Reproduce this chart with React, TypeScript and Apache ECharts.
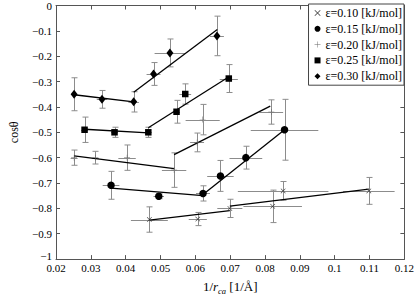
import React, { useEffect, useRef } from "react";
import * as echarts from "echarts";

const names = [
  "ε=0.10 [kJ/mol]",
  "ε=0.15 [kJ/mol]",
  "ε=0.20 [kJ/mol]",
  "ε=0.25 [kJ/mol]",
  "ε=0.30 [kJ/mol]",
];

// ε=0.10
const e10X = [0.0468, 0.0607, 0.0699, 0.0822, 0.0852, 0.1098];
const e10Y = [-0.844, -0.842, -0.8, -0.792, -0.731, -0.731];
const e10XErr = [0.0053, 0.0026, 0.0036, 0.0084, 0.013, 0.0074];
const e10YErr = [0.05, 0.026, 0.036, 0.064, 0.037, 0.053];
const fit10X = [0.0468, 0.0699, 0.0699, 0.1098];
const fit10Y = [-0.846, -0.809, -0.791, -0.724];

// ε=0.15
const e15X = [0.0358, 0.0495, 0.0622, 0.0672, 0.0745, 0.0856];
const e15Y = [-0.709, -0.752, -0.741, -0.672, -0.6, -0.49];
const e15XErr = [0.0024, 0.0015, 0.002, 0.0038, 0.0047, 0.0097];
const e15YErr = [0.055, 0.01, 0.03, 0.061, 0.045, 0.12];
const fit15X = [0.0358, 0.0622, 0.0622, 0.0856];
const fit15Y = [-0.72, -0.75, -0.745, -0.49];

// ε=0.20
const e20X = [0.0252, 0.0313, 0.0404, 0.0539, 0.0605, 0.0621, 0.0818];
const e20Y = [-0.6, -0.6, -0.6, -0.649, -0.54, -0.45, -0.42];
const e20XErr = [0.001, 0.001, 0.0025, 0.0035, 0.002, 0.0049, 0.0034];
const e20YErr = [0.03, 0.025, 0.05, 0.068, 0.037, 0.06, 0.048];
const fit20X = [0.0252, 0.0539, 0.0539, 0.0815];
const fit20Y = [-0.593, -0.643, -0.588, -0.397];

// ε=0.25
const e25X = [0.0282, 0.0368, 0.0465, 0.0546, 0.0571, 0.0696];
const e25Y = [-0.49, -0.5, -0.5, -0.419, -0.349, -0.288];
const e25XErr = [0.001, 0.001, 0.001, 0.001, 0.0017, 0.0026];
const e25YErr = [0.05, 0.02, 0.02, 0.045, 0.04, 0.055];
const fit25X = [0.0282, 0.0465, 0.0465, 0.0692];
const fit25Y = [-0.488, -0.502, -0.482, -0.285];

// ε=0.30
const e30X = [0.0252, 0.0332, 0.0423, 0.048, 0.0527, 0.0662];
const e30Y = [-0.35, -0.37, -0.38, -0.27, -0.187, -0.12];
const e30XErr = [0.0005, 0.0015, 0.0015, 0.002, 0.0044, 0.002];
const e30YErr = [0.065, 0.035, 0.04, 0.045, 0.055, 0.078];
const fit30X = [0.0252, 0.0423, 0.0423, 0.0663];
const fit30Y = [-0.352, -0.38, -0.342, -0.095];

const FONT = "'Liberation Serif', 'DejaVu Serif', serif";
const AX = "#555";

const xPath = "path://M0,0.8 L0.8,0 L5,4.2 L9.2,0 L10,0.8 L5.8,5 L10,9.2 L9.2,10 L5,5.8 L0.8,10 L0,9.2 L4.2,5 Z";
const plusPath = "path://M4.6,0 H5.4 V4.6 H10 V5.4 H5.4 V10 H4.6 V5.4 H0 V4.6 H4.6 Z";

const groups = [
  { X: e10X, Y: e10Y, XE: e10XErr, YE: e10YErr, FX: fit10X, FY: fit10Y, symbol: xPath, size: 5, color: "#333" },
  { X: e15X, Y: e15Y, XE: e15XErr, YE: e15YErr, FX: fit15X, FY: fit15Y, symbol: "circle", size: 7.5, color: "#000" },
  { X: e20X, Y: e20Y, XE: e20XErr, YE: e20YErr, FX: fit20X, FY: fit20Y, symbol: plusPath, size: 6, color: "#666" },
  { X: e25X, Y: e25Y, XE: e25XErr, YE: e25YErr, FX: fit25X, FY: fit25Y, symbol: "rect", size: 6.5, color: "#000" },
  { X: e30X, Y: e30Y, XE: e30XErr, YE: e30YErr, FX: fit30X, FY: fit30Y, symbol: "diamond", size: [7, 9], color: "#000" },
];

const fmt = (v: number) => String(Number(v.toFixed(3))).replace("-", "\u2212");
const fmtY = (v: number) => (Math.abs(v + 1) < 1e-9 ? "{up|" + fmt(v) + "}" : fmt(v));

function App() {
  const ref = useRef<HTMLDivElement>(null);
  useEffect(() => {
    const chart = echarts.init(ref.current!, null, { renderer: "svg" });
    const series: any[] = [];
    groups.forEach((g, gi) => {
      series.push({
        type: "custom",
        name: "err" + gi,
        z: 1,
        silent: true,
        data: g.X.map((x, i) => [x, g.Y[i], g.XE[i], g.YE[i]]),
        encode: { x: 0, y: 1 },
        renderItem: (params: any, api: any) => {
          const x = api.value(0);
          const y = api.value(1);
          const xe = api.value(2);
          const ye = api.value(3);
          const c = api.coord([x, y]);
          const t = api.coord([x, y + ye]);
          const b = api.coord([x, y - ye]);
          const l = api.coord([x - xe, y]);
          const r = api.coord([x + xe, y]);
          const style = { stroke: "#8c8c8c", lineWidth: 1, fill: null };
          const cx = Math.round(c[0]) + 0.5;
          const cy = Math.round(c[1]) + 0.5;
          return {
            type: "group",
            children: [
              { type: "line", shape: { x1: cx, y1: t[1], x2: cx, y2: b[1] }, style },
              { type: "line", shape: { x1: cx - 3, y1: t[1], x2: cx + 3, y2: t[1] }, style },
              { type: "line", shape: { x1: cx - 3, y1: b[1], x2: cx + 3, y2: b[1] }, style },
              { type: "line", shape: { x1: l[0], y1: cy, x2: r[0], y2: cy }, style },
            ],
          };
        },
      });
      for (let s = 0; s < g.FX.length; s += 2) {
        series.push({
          type: "line",
          name: "fit" + gi + "_" + s,
          z: 3,
          silent: true,
          symbol: "none",
          lineStyle: { color: "#000", width: 1.3 },
          data: [
            [g.FX[s], g.FY[s]],
            [g.FX[s + 1], g.FY[s + 1]],
          ],
        });
      }
      series.push({
        type: "scatter",
        name: names[gi],
        z: 4,
        symbol: g.symbol,
        symbolSize: g.size,
        itemStyle: { color: g.color, opacity: 1 },
        data: g.X.map((x, i) => [x, g.Y[i]]),
      });
    });

    const baseAxis = {
      type: "value",
      splitLine: { show: false },
      axisLine: { show: true, onZero: false, lineStyle: { color: AX, width: 1 } },
      axisTick: { show: true, inside: true, length: 4, lineStyle: { color: AX } },
    };

    chart.setOption({
      animation: false,
      backgroundColor: "#fff",
      textStyle: { fontFamily: FONT },
      grid: { left: 37, right: 12, top: 4, bottom: 29, containLabel: false },
      legend: {
        data: names,
        orient: "vertical",
        right: 13,
        top: 4,
        padding: [3, 2, 3, 6],
        itemGap: 3.8,
        itemWidth: 6,
        itemHeight: 6,
        borderColor: "#444",
        borderWidth: 1,
        backgroundColor: "#fff",
        textStyle: { fontFamily: FONT, fontSize: 12, lineHeight: 12, color: "#000" },
      },
      xAxis: [
        {
          ...baseAxis,
          min: 0.02,
          max: 0.12,
          interval: 0.01,
          position: "bottom",
          axisLabel: { color: "#000", fontFamily: FONT, fontSize: 11, margin: 3, formatter: fmt },
          name: "1/{i|r}{s|ca} [1/Å]",
          nameLocation: "middle",
          nameGap: 8,
          nameTextStyle: {
            color: "#000",
            fontFamily: FONT,
            fontSize: 13,
            lineHeight: 17,
            verticalAlign: "top",
            rich: {
              i: { fontFamily: FONT, fontStyle: "italic", fontSize: 13, lineHeight: 17, verticalAlign: "middle" },
              s: { fontFamily: FONT, fontStyle: "italic", fontSize: 8.5, lineHeight: 17, verticalAlign: "bottom" },
            },
          },
        },
        {
          ...baseAxis,
          min: 0.02,
          max: 0.12,
          interval: 0.01,
          position: "top",
          axisLabel: { show: false },
        },
      ],
      yAxis: [
        {
          ...baseAxis,
          min: -1,
          max: 0,
          interval: 0.1,
          position: "left",
          axisLabel: {
            color: "#000",
            fontFamily: FONT,
            fontSize: 11,
            margin: 4,
            formatter: fmtY,
            rich: { up: { fontFamily: FONT, fontSize: 11, color: "#000", padding: [0, 0, 6, 0] } },
          },
          name: "cosθ",
          nameLocation: "middle",
          nameGap: 36,
          nameTextStyle: { color: "#000", fontFamily: FONT, fontSize: 12 },
        },
        {
          ...baseAxis,
          min: -1,
          max: 0,
          interval: 0.1,
          position: "right",
          axisLabel: { show: false },
        },
      ],
      series,
    });
    return () => chart.dispose();
  }, []);
  return (
    <div
      ref={ref}
      style={{ width: 417, height: 300, position: "absolute", left: 0, top: 0, background: "#fff" }}
    />
  );
}

export default App;
